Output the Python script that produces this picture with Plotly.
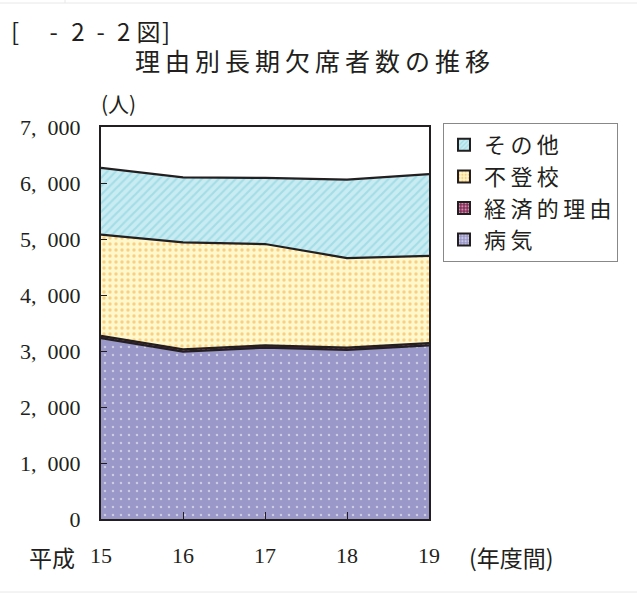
import plotly.graph_objects as go

years = [15, 16, 17, 18, 19]
year_labels = ["15", "16", "17", "18", "19"]
byoki = [3230, 2990, 3060, 3020, 3100]        # 病気
keizai = [40, 40, 40, 40, 40]                 # 経済的理由
futoko = [1810, 1910, 1810, 1600, 1560]       # 不登校
sonota = [1190, 1160, 1180, 1400, 1460]       # その他
y_ticks = [0, 1000, 2000, 3000, 4000, 5000, 6000, 7000]
y_tick_labels = ["0", "1,\u2002000", "2,\u2002000", "3,\u2002000", "4,\u2002000",
                 "5,\u2002000", "6,\u2002000", "7,\u2002000"]

serif = "Liberation Serif, DejaVu Serif, serif"
jp = "Noto Sans CJK JP"
ink = "#231f20"

fig = go.Figure()
series = [
    ("病気", byoki, dict(shape=".", bgcolor="#9a97c9", fgcolor="#ffffff", size=8, solidity=0.08)),
    ("経済的理由", keizai, dict(shape=".", bgcolor="#8a2a5a", fgcolor="#ffffff", size=5, solidity=0.3)),
    ("不登校", futoko, dict(shape=".", bgcolor="#fff8cc", fgcolor="#f5a43a", size=6, solidity=0.25)),
    ("その他", sonota, dict(shape="/", bgcolor="#c8ecf2", fgcolor="#7fcedc", size=6, solidity=0.35)),
]
for name, vals, pat in series:
    fig.add_trace(go.Scatter(
        x=years, y=vals, name=name, mode="lines", stackgroup="one",
        line=dict(color=ink, width=2.2),
        fillcolor=pat["bgcolor"], fillpattern=pat, showlegend=False,
    ))
# legend entries as square swatches
for name, vals, pat in series:
    fig.add_trace(go.Bar(
        x=[None], y=[None], name="\u2009".join(name),
        marker=dict(color=pat["bgcolor"], line=dict(color=ink, width=1.5),
                    pattern=dict(shape=pat["shape"], fgcolor=pat["fgcolor"],
                                 bgcolor=pat["bgcolor"], size=4, solidity=0.4)),
    ))

W, H = 637, 595
l, r, t, b = 101, 208, 127, 76
pw, ph = W - l - r, H - t - b

def px(x, y):
    return (x - l) / pw, (H - b - y) / ph

fig_label = "[\u3000\u2009\u200a-\u2002\u200a2\u2002-\u20022\u2009\u200a図\u200a]"
texts = [
    (fig_label, 9, 31, 24, "left"),
    ("\u2009".join("理由別長期欠席者数の推移"), 312, 60, 25, "center"),
    ("(人)", 118, 103, 21, "center"),
    ("平成", 52, 557, 23, "center"),
    ("(年度間)", 511, 557, 23, "center"),
]
anns = []
for txt, x, y, s, xa in texts:
    xp, yp = px(x, y)
    anns.append(dict(text=txt, x=xp, y=yp, xref="paper", yref="paper", showarrow=False,
                     xanchor=xa, yanchor="middle", font=dict(family=jp, size=s, color=ink)))

# faint page rules
shapes = []
for (x0, y0, x1, y1) in [(0, 3, W, 3), (65, 0, 65, 3), (0, 592, W, 592)]:
    a0, b0 = px(x0, y0)
    a1, b1 = px(x1, y1)
    shapes.append(dict(type="line", xref="paper", yref="paper", x0=a0, y0=b0, x1=a1, y1=b1,
                       line=dict(color="#e8e8e8", width=1)))

fig.update_layout(
    width=W, height=H,
    paper_bgcolor="white", plot_bgcolor="white",
    margin=dict(l=l, r=r, t=t, b=b, autoexpand=False),
    showlegend=True,
    legend=dict(
        x=(443 - l) / pw, y=(H - b - 123) / ph, xanchor="left", yanchor="top",
        traceorder="reversed",
        bordercolor="#888888", borderwidth=1,
        font=dict(family=jp, size=22, color=ink),
        itemwidth=30, tracegroupgap=0, itemsizing="constant",
    ),
    xaxis=dict(
        range=[15, 19], tickvals=years, ticktext=year_labels,
        ticks="inside", ticklen=7, tickcolor=ink,
        showline=True, linecolor=ink, linewidth=2, mirror=True,
        showgrid=False, zeroline=False,
        tickfont=dict(family=serif, size=22, color=ink),
        ticklabelstandoff=16,
    ),
    yaxis=dict(
        range=[0, 7000], tickvals=y_ticks, ticktext=y_tick_labels,
        ticks="inside", ticklen=6, tickcolor=ink,
        showline=True, linecolor=ink, linewidth=2, mirror=True,
        showgrid=False, zeroline=False,
        tickfont=dict(family=serif, size=22, color=ink),
        ticklabelstandoff=14,
    ),
    annotations=anns,
    shapes=shapes,
)

fig.write_html("out.html", config={"displayModeBar": False},
               post_script="document.body.style.margin='0';")
